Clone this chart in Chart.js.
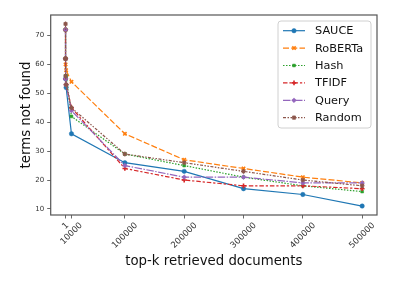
<!DOCTYPE html>
<html><head><meta charset="utf-8">
<script src="https://cdn.jsdelivr.net/npm/chart.js@4"></script>
<style>html,body{margin:0;padding:0;background:#fff}#wrap{width:399px;height:282px}</style>
</head><body><div id="wrap"><canvas id="c" width="399" height="282"></canvas></div>
<script>
// ---- data ----
const xValues = [1, 10, 100, 1000, 10000, 100000, 200000, 300000, 400000, 500000];
const xTickValues = [1, 10000, 100000, 200000, 300000, 400000, 500000];
const xTickLabels = ['1', '10000', '100000', '200000', '300000', '400000', '500000'];
const yTickValues = [10, 20, 30, 40, 50, 60, 70];
const seriesNames = ['SAUCE', 'RoBERTa', 'Hash', 'TFIDF', 'Query', 'Random'];
const sauce   = [72, 62, 55, 52, 36, 26, 23, 17, 15, 11];
const roberta = [72, 62, 60, 58, 54, 36, 27, 24, 21, 19];
const hash    = [72, 62, 56, 56, 42, 29, 25, 21, 18, 16];
const tfidf   = [72, 62, 55, 53, 45, 24, 20, 18, 18, 17];
const query   = [72, 62, 55, 53, 44, 25, 21, 21, 19, 19];
const random  = [74, 62, 56, 53, 45, 29, 26, 23, 20, 18];
const xTitle = 'top-k retrieved documents';
const yTitle = 'terms not found';

const seriesValues = [sauce, roberta, hash, tfidf, query, random];
const colors = ['#1f77b4', '#ff7f0e', '#2ca02c', '#d62728', '#9467bd', '#8c564b'];
const dashes = [[], [6, 2.25], [1.5, 1.5], [4.5, 1.9, 2.25, 1.9], [7.5, 1.5, 1.5, 1.5], [3, 1.5, 1.5, 1.5, 1.5, 1.5]];
const pstyles = ['circle', 'crossRot', 'rect', 'cross', 'rectRot', 'star'];
const pradius = [2.2, 2.4, 2.0, 2.4, 2.4, 2.4];
const pbw = [0.5, 1.6, 0.5, 1.6, 0.5, 1.1];

const FONT = 'DejaVu Sans';
const AREA = {left: 50.7, right: 377, top: 15, bottom: 215};

const datasets = seriesNames.map((name, i) => ({
  label: name,
  data: xValues.map((x, j) => ({x: x, y: seriesValues[i][j]})),
  borderColor: colors[i],
  backgroundColor: colors[i],
  pointBackgroundColor: colors[i],
  pointBorderColor: colors[i],
  borderWidth: 1.2,
  borderDash: dashes[i],
  pointStyle: pstyles[i],
  pointRadius: pradius[i],
  pointBorderWidth: pbw[i],
  tension: 0,
  order: -i
}));

const decor = {
  id: 'decor',
  afterDraw(chart) {
    const ctx = chart.ctx;
    const ca = chart.chartArea;
    const xs = chart.scales.x;
    ctx.save();
    // frame
    ctx.strokeStyle = '#555';
    ctx.lineWidth = 1.2;
    ctx.strokeRect(ca.left, ca.top, ca.right - ca.left, ca.bottom - ca.top);
    // x tick labels (rotated, centered)
    const fx = 8.5;
    ctx.fillStyle = '#333';
    ctx.font = fx + 'px "' + FONT + '"';
    ctx.textAlign = 'center';
    ctx.textBaseline = 'middle';
    xTickValues.forEach((v, i) => {
      const px = xs.getPixelForValue(v);
      const w = ctx.measureText(xTickLabels[i]).width;
      const H = (w + fx) * Math.SQRT1_2;
      const cy = ca.bottom + 6 + H / 2;
      ctx.save();
      ctx.translate(px, cy);
      ctx.rotate(-Math.PI / 4);
      ctx.fillText(xTickLabels[i], 0, 0);
      ctx.restore();
    });
    // axis titles
    ctx.fillStyle = '#111';
    ctx.font = '13.3px "' + FONT + '"';
    ctx.fillText(xTitle, (ca.left + ca.right) / 2, 261.5);
    ctx.save();
    ctx.translate(26.7, (ca.top + ca.bottom) / 2);
    ctx.rotate(-Math.PI / 2);
    ctx.fillText(yTitle, 0, 0);
    ctx.restore();
    // legend
    const lx = 278, ly = 21, lw = 93, lh = 107, r = 3;
    ctx.beginPath();
    ctx.moveTo(lx + r, ly);
    ctx.arcTo(lx + lw, ly, lx + lw, ly + lh, r);
    ctx.arcTo(lx + lw, ly + lh, lx, ly + lh, r);
    ctx.arcTo(lx, ly + lh, lx, ly, r);
    ctx.arcTo(lx, ly, lx + lw, ly, r);
    ctx.closePath();
    ctx.fillStyle = 'rgba(255,255,255,0.85)';
    ctx.fill();
    ctx.strokeStyle = '#d0d0d0';
    ctx.lineWidth = 1;
    ctx.stroke();
    ctx.font = '11.3px "' + FONT + '"';
    ctx.textAlign = 'left';
    chart.data.datasets.forEach((ds, i) => {
      const y = 30.7 + i * 17.4;
      ctx.save();
      ctx.strokeStyle = ds.borderColor;
      ctx.lineWidth = ds.borderWidth;
      ctx.setLineDash(ds.borderDash);
      ctx.beginPath();
      ctx.moveTo(283, y);
      ctx.lineTo(305, y);
      ctx.stroke();
      ctx.setLineDash([]);
      ctx.fillStyle = ds.pointBackgroundColor;
      ctx.strokeStyle = ds.pointBorderColor;
      ctx.lineWidth = ds.pointBorderWidth;
      if (Chart.helpers && Chart.helpers.drawPoint) {
        Chart.helpers.drawPoint(ctx, {pointStyle: ds.pointStyle, radius: ds.pointRadius, rotation: 0, borderWidth: ds.pointBorderWidth}, 294, y);
      } else {
        ctx.beginPath(); ctx.arc(294, y, 2.4, 0, Math.PI * 2); ctx.fill();
      }
      ctx.restore();
      ctx.fillStyle = '#111';
      ctx.fillText(ds.label, 315, y + 0.5);
    });
    ctx.restore();
  }
};

new Chart(document.getElementById('c'), {
  type: 'line',
  data: {datasets: datasets},
  options: {
    responsive: false,
    animation: false,
    devicePixelRatio: 1,
    layout: {padding: {left: 0, right: 399 - AREA.right, top: AREA.top, bottom: 0}},
    plugins: {legend: {display: false}, tooltip: {enabled: false}},
    scales: {
      x: {
        type: 'linear',
        min: -25000,
        max: 525000,
        afterBuildTicks: s => { s.ticks = xTickValues.map(v => ({value: v})); },
        afterFit: s => { s.height = 282 - AREA.bottom; },
        ticks: {callback: () => '', autoSkip: false, maxRotation: 0},
        grid: {display: true, drawOnChartArea: false, drawTicks: true, tickLength: 3.5, color: '#444', lineWidth: 0.8},
        border: {display: false}
      },
      y: {
        type: 'linear',
        min: 7.9,
        max: 77.1,
        afterBuildTicks: s => { s.ticks = yTickValues.map(v => ({value: v})); },
        afterFit: s => { s.width = AREA.left; },
        ticks: {color: '#333', font: {family: FONT, size: 7}, padding: 3, autoSkip: false},
        grid: {display: true, drawOnChartArea: false, drawTicks: true, tickLength: 3.5, color: '#444', lineWidth: 0.8},
        border: {display: false}
      }
    }
  },
  plugins: [decor]
});
</script>
</body></html>
